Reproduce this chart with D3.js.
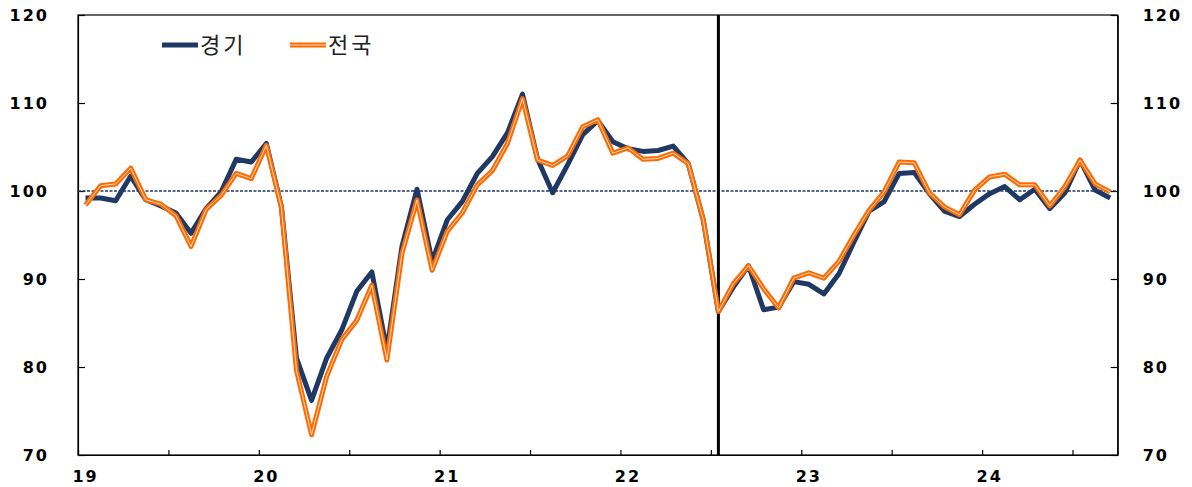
<!DOCTYPE html>
<html><head><meta charset="utf-8">
<script src="https://cdn.jsdelivr.net/npm/d3@7"></script>
<style>
html,body{margin:0;padding:0;background:#fff;}
svg{display:block;}
</style></head>
<body>
<svg id="chart" width="1192" height="487"></svg>
<script>
// ---- data ----
const years = ["19","20","21","22","23","24"];
const monthsPerYear = 12;
const nMonths = 69; // 2019.01 ~ 2024.09
const categories = [];
for (let i = 0; i < nMonths; i++) {
  categories.push(years[Math.floor(i / monthsPerYear)] + "." + String(i % monthsPerYear + 1).padStart(2, "0"));
}
const gyeonggi = [
  99.2, 99.2, 98.9, 101.7, 99.0, 98.3, 97.5, 95.2, 98.0, 99.9, 103.6, 103.3,
  105.4, 98.2, 81.0, 76.2, 81.0, 84.2, 88.6, 90.8, 81.9, 93.7, 100.2, 92.0,
  96.7, 98.8, 102.0, 103.9, 106.6, 111.0, 103.6, 99.8, 103.0, 106.4, 108.0, 105.6,
  104.8, 104.5, 104.6, 105.1, 103.1, 96.7, 86.3, 89.1, 91.5, 86.5, 86.8, 89.7,
  89.4, 88.3, 90.6, 94.2, 97.7, 98.8, 102.0, 102.1, 99.7, 97.7, 97.1, 98.5,
  99.7, 100.5, 99.0, 100.2, 98.0, 99.8, 103.5, 100.1, 99.2
];
const national = [
  98.4, 100.6, 100.8, 102.6, 99.0, 98.5, 97.2, 93.7, 97.9, 99.5, 102.0, 101.4,
  105.2, 98.1, 79.6, 72.3, 78.9, 83.1, 85.3, 89.3, 80.8, 92.9, 99.0, 91.0,
  95.4, 97.5, 100.7, 102.3, 105.4, 110.5, 103.5, 102.9, 104.0, 107.3, 108.1, 104.3,
  104.9, 103.6, 103.7, 104.3, 103.1, 96.7, 86.3, 89.5, 91.5, 88.9, 86.7, 90.1,
  90.7, 90.1, 92.0, 95.0, 97.8, 99.9, 103.3, 103.2, 99.8, 98.2, 97.3, 100.1,
  101.6, 101.9, 100.7, 100.7, 98.3, 100.5, 103.5, 100.8, 99.9
];
const seriesNames = ["경기", "전국"];
const yTicks = [70, 80, 90, 100, 110, 120];
const referenceValue = 100;
const markerCategory = "22.07";

// ---- layout ----
const L = 78, R = 1117.7, T = 15, B = 455;
const navy = "#1f3864", orange = "#ff6a00";
const svg = d3.select("#chart");

const x = d3.scaleBand().domain(categories).range([L, R]).padding(0);
const xc = c => x(c) + x.bandwidth() / 2;
const xi = d3.scaleLinear().domain([0, nMonths]).range([L, R]);
const y = d3.scaleLinear().domain([70, 120]).range([B, T]);

const fontAxis = "'DejaVu Sans', Verdana, sans-serif";

// frame
svg.append("rect").attr("x", L).attr("y", T).attr("width", R - L).attr("height", B - T)
  .attr("fill", "none").attr("stroke", "#000").attr("stroke-width", 1.2);

function styleAxis(g) {
  g.select(".domain").attr("stroke", "#000").attr("stroke-width", 1.2);
  g.selectAll(".tick line").attr("stroke", "#000").attr("stroke-width", 1.2);
  g.selectAll("text").attr("font-family", fontAxis).attr("font-weight", "bold")
    .attr("font-size", 16).attr("fill", "#000").attr("letter-spacing", 2);
}

// left axis
const gl = svg.append("g").attr("transform", `translate(${L},0)`)
  .call(d3.axisLeft(y).tickValues(yTicks).tickSizeInner(-7).tickSizeOuter(0).tickPadding(29));
styleAxis(gl);
// right axis
const gr = svg.append("g").attr("transform", `translate(${R},0)`)
  .call(d3.axisRight(y).tickValues(yTicks).tickSizeInner(-7).tickSizeOuter(0).tickPadding(25));
styleAxis(gr);
// bottom ticks (every 6 months)
const gb = svg.append("g").attr("transform", `translate(0,${B})`)
  .call(d3.axisBottom(xi).tickValues(d3.range(0, nMonths, 6)).tickSizeInner(-5).tickSizeOuter(0).tickFormat(""));
styleAxis(gb);
// bottom labels (years, centered on January)
const gbl = svg.append("g").attr("transform", `translate(0,${B})`)
  .call(d3.axisBottom(x).tickValues(categories.filter(c => c.endsWith(".01")))
    .tickSize(0).tickPadding(16).tickFormat(c => c.slice(0, 2)));
gbl.select(".domain").remove();
styleAxis(gbl);
gbl.selectAll("text").attr("dy", "0.71em");

// reference line at 100
svg.append("line").attr("x1", L).attr("x2", R).attr("y1", y(referenceValue)).attr("y2", y(referenceValue))
  .attr("stroke", navy).attr("stroke-width", 1.6).attr("stroke-dasharray", "3,1.5");

// vertical marker
svg.append("line").attr("x1", xc(markerCategory)).attr("x2", xc(markerCategory))
  .attr("y1", T).attr("y2", B).attr("stroke", "#000").attr("stroke-width", 3);

// lines
const line = d3.line().x((d, i) => xc(categories[i])).y(d => y(d));
svg.append("path").datum(gyeonggi).attr("d", line).attr("fill", "none")
  .attr("stroke", navy).attr("stroke-width", 5).attr("stroke-linejoin", "round");
svg.append("path").datum(national).attr("d", line).attr("fill", "none")
  .attr("stroke", orange).attr("stroke-width", 5).attr("stroke-linejoin", "round");
svg.append("path").datum(national).attr("d", line).attr("fill", "none")
  .attr("stroke", "#fff").attr("stroke-width", 0.9).attr("stroke-linejoin", "round").attr("opacity", 0.85);

// legend
const legend = [
  {name: seriesNames[0], color: navy, x0: 162, double: false},
  {name: seriesNames[1], color: orange, x0: 290, double: true}
];
const lg = svg.append("g");
legend.forEach(d => {
  lg.append("line").attr("x1", d.x0).attr("x2", d.x0 + 36).attr("y1", 45).attr("y2", 45)
    .attr("stroke", d.color).attr("stroke-width", 5);
  if (d.double) lg.append("line").attr("x1", d.x0).attr("x2", d.x0 + 36).attr("y1", 45).attr("y2", 45)
    .attr("stroke", "#fff").attr("stroke-width", 0.9).attr("opacity", 0.85);
  lg.append("text").attr("x", d.x0 + 38).attr("y", 53).text(d.name)
    .attr("font-family", "'Noto Sans CJK KR', sans-serif").attr("font-size", 22)
    .attr("letter-spacing", 3).attr("fill", "#222");
});
</script>
</body></html>
